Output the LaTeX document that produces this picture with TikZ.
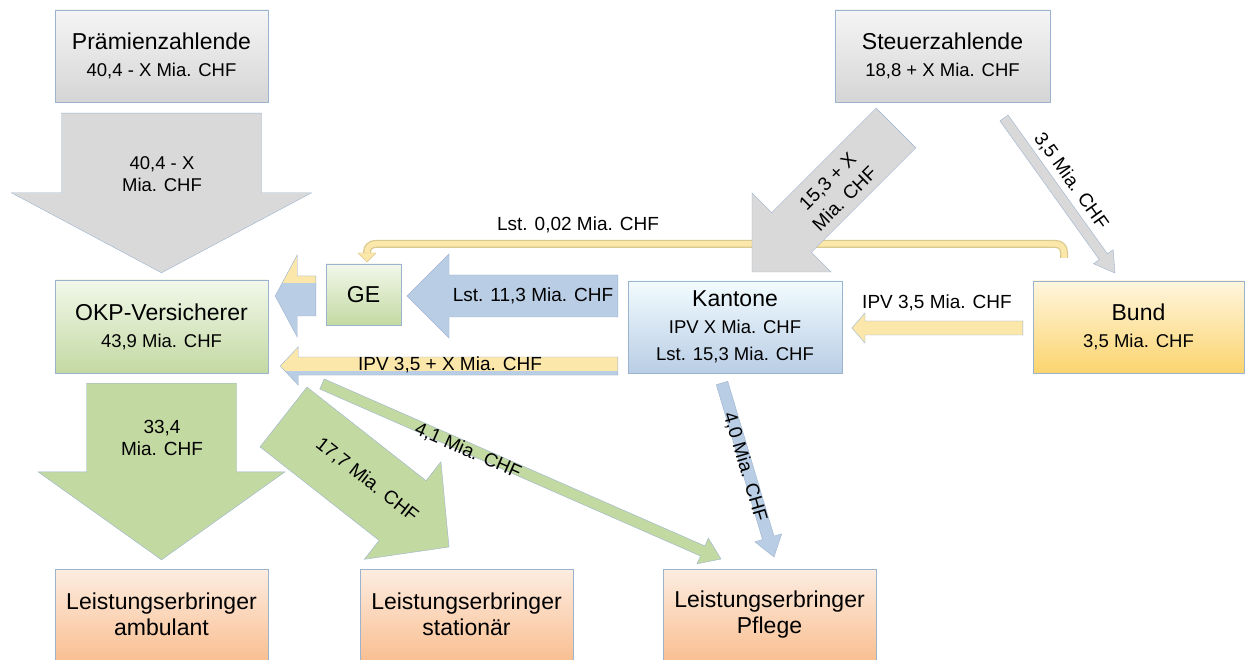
\documentclass[tikz,border=0pt]{standalone}
\usepackage{fontspec}
\setmainfont{Liberation Sans}
\usetikzlibrary{calc}

\definecolor{edgeblue}{HTML}{9CB3CF}
\definecolor{grayfill}{HTML}{D9D9D9}
\definecolor{greenfill}{HTML}{C3D9A2}
\definecolor{bluefill}{HTML}{B9CDE5}
\definecolor{yfill}{HTML}{FCE7AA}
\definecolor{yborder}{HTML}{D9C98F}
\definecolor{ytop}{HTML}{FFF6DE}
\definecolor{ybottom}{HTML}{FBD46E}
\definecolor{otop}{HTML}{FDEDE1}
\definecolor{obottom}{HTML}{F9BF92}

\newcommand\subline{\fontsize{18.5}{27}\selectfont}
% block arrow: from, to, half body width, half head width, head length
\newcommand\arrowpath[5]{($(#1)!#3!90:(#2)$) -- ($($(#2)!#5!(#1)$)!#3!90:(#2)$) -- ($($(#2)!#5!(#1)$)!#4!90:(#2)$) -- (#2) -- ($($(#2)!#5!(#1)$)!#4!-90:(#2)$) -- ($($(#2)!#5!(#1)$)!#3!-90:(#2)$) -- ($(#1)!#3!-90:(#2)$) -- cycle}

\begin{document}
\begin{tikzpicture}[x=1pt,y=-1pt,
    box/.style={draw=edgeblue, minimum width=213pt, minimum height=92pt, inner sep=0pt,
      align=center, font=\fontsize{23}{27}\selectfont},
    graybox/.style={box, top color=gray!8, bottom color=gray!33},
    greenbox/.style={box, top color=green!30!olive!8, bottom color=greenfill},
    bluebox/.style={box, top color=blue!25!cyan!5, bottom color=bluefill},
    yellowbox/.style={box, top color=ytop, bottom color=ybottom},
    orangebox/.style={box, top color=otop, bottom color=obottom, font=\fontsize{23}{26}\selectfont},
    grayarrow/.style={fill=grayfill, draw=edgeblue},
    greenarrow/.style={fill=greenfill, draw=edgeblue},
    bluearrow/.style={fill=bluefill, draw=edgeblue},
    yarrow/.style={fill=yfill, draw=edgeblue},
    lbl/.style={font=\fontsize{19}{22}\selectfont, align=center, inner sep=0pt}]
  \useasboundingbox[fill=white] (0,0) rectangle (1245,660);

  % boxes
  \node[graybox] (praem) at (161.5,56) {Prämienzahlende\\\subline 40,4 - X Mia. CHF};
  \node[graybox, minimum width=215pt] (steuer) at (942.5,56) {Steuerzahlende\\\subline 18,8 + X Mia. CHF};
  \node[greenbox, minimum height=93pt] (okp) at (161.5,326.5) {OKP-Versicherer\\\subline 43,9 Mia. CHF};
  \node[greenbox, minimum width=75pt, minimum height=61pt] (ge) at (363.5,294.5) {GE};
  \node[bluebox, minimum width=214pt] (kant) at (735,327) {Kantone\\\subline IPV X Mia. CHF\\\subline Lst. 15,3 Mia. CHF};
  \node[yellowbox, minimum width=211pt] (bund) at (1138.5,327) {Bund\\\subline 3,5 Mia. CHF};
  \node[orangebox, minimum height=91pt] (amb) at (161.5,614.5) {Leistungserbringer\\ambulant};
  \node[orangebox, minimum height=91pt] (stat) at (466.5,614.5) {Leistungserbringer\\stationär};
  \node[orangebox, minimum height=91pt] (pfl) at (769.5,614.5) {Leistungserbringer\\Pflege};

  % arrow ends
  \coordinate (pz-a) at ($(praem.south)+(0,11)$);
  \coordinate (pz-b) at ($(okp.north)+(0,-7)$);
  \coordinate (am-a) at ($(okp.south)+(0,10)$);
  \coordinate (am-b) at ($(amb.north)+(0,-9)$);
  \coordinate (st-a) at (283.5,417);
  \coordinate (st-b) at (449,547);
  \coordinate (pf-a) at (322,384);
  \coordinate (pf-b) at (721,559);
  \coordinate (kp-a) at (722,383);
  \coordinate (kp-b) at (774,557);
  \coordinate (sk-a) at (896,128);
  \coordinate (sk-b) at (752,272);
  \coordinate (sb-a) at (1004,118);
  \coordinate (sb-b) at (1115,273);
  \coordinate (kg-a) at ($(kant.west)+(-10,-31)$);
  \coordinate (kg-b) at (407,296);
  \coordinate (bk-a) at ($(bund.west)+(-10,1)$);
  \coordinate (bk-b) at (852,328);
  \coordinate (go-a) at ($(ge.west)+(-10,1.5)$);
  \coordinate (go-b) at ($(okp.east)+(7,-30.5)$);
  \coordinate (ko-a) at ($(kant.west)+(-10,39)$);
  \coordinate (ko-b) at ($(okp.east)+(12,39.5)$);
  \coordinate (lst-a) at (1064,258);
  \coordinate (lst-b) at (367,262);

  % Lst. 0,02 line into GE
  \draw[line width=8pt, draw=yborder, rounded corners=8pt] (lst-a) |- (367,244) -- (367,253);
  \draw[line width=5.5pt, draw=yfill, rounded corners=8pt] (lst-a) |- (367,244) -- (367,253.5);
  \draw[fill=yfill, draw=yborder] (358,253) -- (376,253) -- (lst-b) -- cycle;

  % flows
  \draw[grayarrow] \arrowpath{pz-a}{pz-b}{100pt}{150pt}{80pt};
  \draw[grayarrow] \arrowpath{sk-a}{sk-b}{28pt}{56pt}{56pt};
  \draw[grayarrow] \arrowpath{sb-a}{sb-b}{5pt}{12pt}{20pt};
  \draw[greenarrow] \arrowpath{am-a}{am-b}{75pt}{123.5pt}{88pt};
  \draw[greenarrow] \arrowpath{pf-a}{pf-b}{5.5pt}{14pt}{20pt};
  \draw[greenarrow] \arrowpath{st-a}{st-b}{38pt}{62pt}{59pt};
  \draw[bluearrow] \arrowpath{kp-a}{kp-b}{6pt}{14pt}{20pt};
  \draw[bluearrow] \arrowpath{kg-a}{kg-b}{21pt}{42pt}{42pt};
  \draw[yarrow] \arrowpath{bk-a}{bk-b}{7pt}{15pt}{13pt};

  \begin{scope}
    \clip \arrowpath{go-a}{go-b}{20pt}{41pt}{22pt};
    \fill[bluefill] (260,240) rectangle (330,350);
    \fill[yfill] (260,240) rectangle (330,283);
  \end{scope}
  \draw[edgeblue] \arrowpath{go-a}{go-b}{20pt}{41pt}{22pt};

  \begin{scope}
    \clip \arrowpath{ko-a}{ko-b}{9pt}{19pt}{18pt};
    \fill[yfill] (270,340) rectangle (630,390);
    \fill[bluefill] (270,371) rectangle (630,390);
  \end{scope}
  \draw[edgeblue] \arrowpath{ko-a}{ko-b}{9pt}{19pt}{18pt};

  % labels
  \node[lbl, font=\fontsize{18.5}{22}\selectfont] (pz-l) at (162,174) {40,4 - X\\Mia. CHF};
  \node[lbl] (am-l) at (162,438) {33,4\\Mia. CHF};
  \node[lbl, rotate=-38.2] (st-l) at (367,480) {17,7 Mia. CHF};
  \node[lbl, rotate=-23.7] (pf-l) at (468,451) {4,1 Mia. CHF};
  \node[lbl, rotate=-73.4] (kp-l) at (745,467) {4,0 Mia. CHF};
  \node[lbl, rotate=45, font=\fontsize{19}{24}\selectfont] (sk-l) at (836,190) {15,3 + X\\Mia. CHF};
  \node[lbl, rotate=-54.4] (sb-l) at (1071,181) {3,5 Mia. CHF};
  \node[lbl] (kg-l) at (533,296) {Lst. 11,3 Mia. CHF};
  \node[lbl] (bk-l) at (937,303) {IPV 3,5 Mia. CHF};
  \node[lbl] (ko-l) at (450,365) {IPV 3,5 + X Mia. CHF};
  \node[lbl] (lst-l) at (578,225) {Lst. 0,02 Mia. CHF};
\end{tikzpicture}
\end{document}
